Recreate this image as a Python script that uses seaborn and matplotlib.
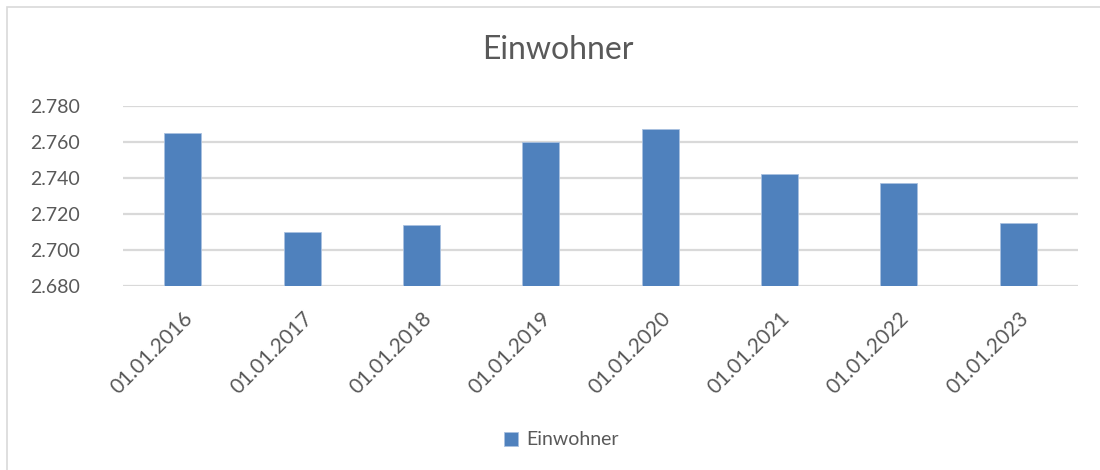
import matplotlib
matplotlib.use("Agg")
import matplotlib.pyplot as plt
from matplotlib.ticker import FuncFormatter
from matplotlib.patches import Rectangle
import seaborn as sns
import pandas as pd

# Data
dates = ["01.01.2016", "01.01.2017", "01.01.2018", "01.01.2019",
         "01.01.2020", "01.01.2021", "01.01.2022", "01.01.2023"]
einwohner = [2765, 2710, 2714, 2760, 2767, 2742, 2737, 2715]
y_ticks = [2680, 2700, 2720, 2740, 2760, 2780]

BAR_COLOR = "#4F81BD"
TEXT_COLOR = "#595959"
GRID_COLOR = "#D9D9D9"

sns.set_style("white")
plt.rcParams['font.family'] = ['Lato', 'DejaVu Sans']

df = pd.DataFrame({"Datum": dates, "Einwohner": einwohner})

fig = plt.figure(figsize=(11, 4.7), dpi=100)
ax = fig.add_axes([0.1118, 0.3915, 0.8682, 0.3835])

sns.barplot(data=df, x="Datum", y="Einwohner", color=BAR_COLOR, width=0.31,
            saturation=1, edgecolor="#A9C1E0", linewidth=0.6, ax=ax, zorder=3,
            label="Einwohner")

ax.set_ylim(2680, 2780)
ax.set_xlim(-0.5, 7.5)
ax.set_yticks(y_ticks)
ax.yaxis.set_major_formatter(FuncFormatter(lambda v, p: f"{v:,.0f}".replace(",", ".")))
ax.grid(axis="y", color=GRID_COLOR, linewidth=1.6, zorder=0)
ax.set_axisbelow(True)
for s in ax.spines.values():
    s.set_visible(False)
ax.set_xlabel("")
ax.set_ylabel("")
ax.tick_params(axis="both", length=0, labelsize=14, labelcolor=TEXT_COLOR)
ax.tick_params(axis="y", pad=31)
ax.tick_params(axis="x", pad=16, labelsize=15)
plt.setp(ax.get_xticklabels(), rotation=45, ha="right", rotation_mode="anchor")

fig.text(0.507, 0.893, "Einwohner", ha="center", va="center",
         fontsize=23, color=TEXT_COLOR)

handles, labels = ax.get_legend_handles_labels()
fig.legend(handles, labels, loc="center", bbox_to_anchor=(0.51, 0.064),
           frameon=False, fontsize=14, labelcolor=TEXT_COLOR,
           handlelength=0.75, handleheight=0.75, handletextpad=0.4)
if ax.get_legend() is not None:
    ax.get_legend().remove()

# light chart-area border (only top and left edges visible)
fig.add_artist(Rectangle((7 / 1100, -0.1), 1.2, 1 - 6.5 / 470 + 0.1,
                         transform=fig.transFigure, fill=False,
                         edgecolor=GRID_COLOR, linewidth=1.2))

fig.savefig("out.png", dpi=100)
